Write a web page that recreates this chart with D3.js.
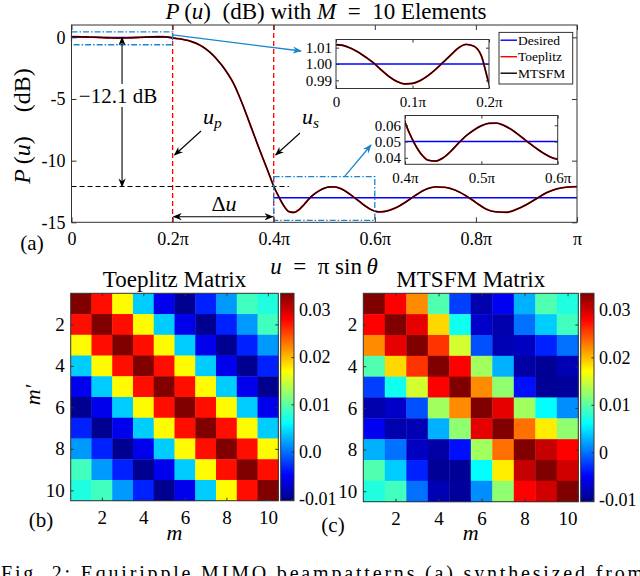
<!DOCTYPE html>
<html>
<head>
<meta charset="utf-8">
<script src="https://cdn.jsdelivr.net/npm/d3@7"></script>
<style>
body { margin: 0; background: #fff; }
svg { display: block; font-family: "Liberation Serif", "Times New Roman", "DejaVu Serif", serif; }
</style>
</head>
<body>
<svg id="fig" width="640" height="576"></svg>
<script>
// beampattern samples: u in units of pi, P(u) linear
var uPts = [0, 0.01, 0.02, 0.03, 0.04, 0.05, 0.06, 0.07, 0.08, 0.09, 0.10, 0.11, 0.12, 0.13, 0.14, 0.15, 0.16, 0.17, 0.18, 0.19, 0.20,
    0.21, 0.22, 0.23, 0.24, 0.25, 0.26, 0.27, 0.28, 0.29, 0.30, 0.31, 0.32, 0.33, 0.34, 0.35, 0.36, 0.37, 0.38, 0.39, 0.40,
    0.41, 0.42, 0.43, 0.44, 0.45, 0.46, 0.47, 0.48, 0.49, 0.50, 0.51, 0.52, 0.53, 0.54, 0.55, 0.56, 0.57, 0.58, 0.59, 0.60,
    0.61, 0.62, 0.64, 0.66, 0.68, 0.70, 0.72, 0.74, 0.76, 0.78, 0.80, 0.82, 0.84, 0.86, 0.88, 0.90, 0.92, 0.94, 0.96, 0.98, 1.00];
var pToeplitz = [1.0118, 1.0113, 1.0095, 1.0070, 1.0038, 1.0003, 0.9960, 0.9921, 0.9892, 0.9878, 0.9881, 0.9898, 0.9928, 0.9966, 1.0010, 1.0055, 1.0098, 1.0120, 1.0110, 1.0050, 0.9880,
    0.977, 0.962, 0.944, 0.916, 0.881, 0.836, 0.780, 0.716, 0.646, 0.575, 0.501, 0.427, 0.347, 0.275, 0.214, 0.166, 0.129, 0.101, 0.0794, 0.0620,
    0.0510, 0.0430, 0.0386, 0.0380, 0.0400, 0.0440, 0.0490, 0.0535, 0.0570, 0.0597, 0.0612, 0.0613, 0.0598, 0.0572, 0.0537, 0.0500, 0.0465, 0.0432, 0.0406, 0.0390,
    0.0384, 0.0387, 0.0412, 0.0458, 0.0522, 0.0583, 0.0613, 0.0607, 0.0575, 0.0520, 0.0458, 0.0405, 0.0384, 0.0381, 0.0402, 0.0440, 0.0492, 0.0550, 0.0590, 0.0610, 0.0616];
// the MTSFM synthesis lies on top of the Toeplitz one at this scale
var pMtsfm = pToeplitz.slice();

var desiredBands = [[0, 0.2, 1], [0.4, 1, 0.05]];
var legendNames = ["Desired", "Toeplitz", "MTSFM"];
var legendColors = ["#0000ff", "#ff0000", "#000000"];

var xTicks = [0, 0.2, 0.4, 0.6, 0.8, 1];
var xTickLabels = ["0", "0.2\u03c0", "0.4\u03c0", "0.6\u03c0", "0.8\u03c0", "\u03c0"];
var yTicks = [0, -5, -10, -15];
var in1XTicks = [0, 0.1, 0.2], in1XLabels = ["0", "0.1\u03c0", "0.2\u03c0"];
var in1YTicks = [0.99, 1.00, 1.01];
var in2XTicks = [0.4, 0.5, 0.6], in2XLabels = ["0.4\u03c0", "0.5\u03c0", "0.6\u03c0"];
var in2YTicks = [0.04, 0.05, 0.06];

var toeplitzMat = [
    [0.0335, 0.0274, 0.0172, 0.0039, -0.0057, -0.0099, -0.0035, 0.0017, 0.0088, 0.0074],
    [0.0274, 0.0335, 0.0274, 0.0172, 0.0039, -0.0057, -0.0099, -0.0035, 0.0017, 0.0088],
    [0.0172, 0.0274, 0.0335, 0.0274, 0.0172, 0.0039, -0.0057, -0.0099, -0.0035, 0.0017],
    [0.0039, 0.0172, 0.0274, 0.0335, 0.0274, 0.0172, 0.0039, -0.0057, -0.0099, -0.0035],
    [-0.0057, 0.0039, 0.0172, 0.0274, 0.0335, 0.0274, 0.0172, 0.0039, -0.0057, -0.0099],
    [-0.0099, -0.0057, 0.0039, 0.0172, 0.0274, 0.0335, 0.0274, 0.0172, 0.0039, -0.0057],
    [-0.0035, -0.0099, -0.0057, 0.0039, 0.0172, 0.0274, 0.0335, 0.0274, 0.0172, 0.0039],
    [0.0017, -0.0035, -0.0099, -0.0057, 0.0039, 0.0172, 0.0274, 0.0335, 0.0274, 0.0172],
    [0.0088, 0.0017, -0.0035, -0.0099, -0.0057, 0.0039, 0.0172, 0.0274, 0.0335, 0.0274],
    [0.0074, 0.0088, 0.0017, -0.0035, -0.0099, -0.0057, 0.0039, 0.0172, 0.0274, 0.0335]
];
var mtsfmMat = [
    [0.0335, 0.0280, 0.0220, 0.0095, -0.0022, -0.0086, -0.0055, 0.0027, 0.0095, 0.0074],
    [0.0280, 0.0335, 0.0291, 0.0187, 0.0067, -0.0074, -0.0086, -0.0001, 0.0039, 0.0088],
    [0.0220, 0.0291, 0.0335, 0.0258, 0.0151, -0.0015, -0.0083, -0.0077, -0.0035, -0.0001],
    [0.0095, 0.0187, 0.0258, 0.0335, 0.0280, 0.0130, 0.0027, -0.0090, -0.0096, -0.0083],
    [-0.0022, 0.0067, 0.0151, 0.0280, 0.0335, 0.0220, 0.0122, -0.0043, -0.0096, -0.0094],
    [-0.0086, -0.0074, -0.0015, 0.0130, 0.0220, 0.0335, 0.0291, 0.0130, 0.0061, 0.0012],
    [-0.0055, -0.0086, -0.0083, 0.0027, 0.0122, 0.0291, 0.0335, 0.0232, 0.0178, 0.0122],
    [0.0027, -0.0001, -0.0077, -0.0090, -0.0043, 0.0130, 0.0232, 0.0335, 0.0305, 0.0280],
    [0.0095, 0.0039, -0.0035, -0.0096, -0.0096, 0.0061, 0.0178, 0.0305, 0.0335, 0.0300],
    [0.0074, 0.0088, -0.0001, -0.0083, -0.0094, 0.0012, 0.0122, 0.0280, 0.0300, 0.0335]
];
var matTicks = [2, 4, 6, 8, 10];
var cbarTicks = [-0.01, 0, 0.01, 0.02, 0.03];
var cbarLabelsB = ["-0.01", "0.0", "0.01", "0.02", "0.03"];
var cbarLabelsC = ["-0.01", "0", "0.01", "0.02", "0.03"];
var cLim = [-0.0104, 0.0335];

var svg = d3.select("#fig");
var ink = "#333";
var defs = svg.append("defs");

function marker(id, color, size) {
    defs.append("marker").attr("id", id).attr("viewBox", "0 0 10 10")
        .attr("refX", 9).attr("refY", 5).attr("markerWidth", size).attr("markerHeight", size)
        .attr("orient", "auto-start-reverse").attr("markerUnits", "userSpaceOnUse")
        .append("path").attr("d", "M0,1 L10,5 L0,9 L3,5 Z").attr("fill", color);
}
marker("ahK", "#000", 9);
marker("ahB", "#1a85d0", 9);

var plain = function(d) { return String(d); };

// MATLAB-like boxed axes with inward ticks
function boxAxes(g, xs, ys, o) {
    var b = ys.range()[0], t = ys.range()[1], l = xs.range()[0], r = xs.range()[1];
    var tk = o.tick || 5;
    var ax = g.append("g").attr("transform", "translate(0," + b + ")")
        .call(d3.axisBottom(xs).tickValues(o.xt).tickFormat(o.xf).tickSize(-tk).tickSizeOuter(0).tickPadding(o.xpad));
    var ay = g.append("g").attr("transform", "translate(" + l + ",0)")
        .call(d3.axisLeft(ys).tickValues(o.yt).tickFormat(o.yf).tickSize(-tk).tickSizeOuter(0).tickPadding(o.ypad));
    var at = g.append("g").attr("transform", "translate(0," + t + ")")
        .call(d3.axisTop(xs).tickValues(o.xt).tickFormat("").tickSize(-tk).tickSizeOuter(0));
    var ar = g.append("g").attr("transform", "translate(" + r + ",0)")
        .call(d3.axisRight(ys).tickValues(o.yt).tickFormat("").tickSize(-tk).tickSizeOuter(0));
    [ax, ay, at, ar].forEach(function(a) {
        a.attr("font-family", null).attr("font-size", o.fs).attr("color", ink);
        a.select(".domain").remove();
        a.selectAll("text").attr("fill", "#000");
    });
    g.append("rect").attr("x", l).attr("y", t).attr("width", r - l).attr("height", b - t)
        .attr("fill", "none").attr("stroke", ink).attr("stroke-width", 1);
}

function mathText(g, x, y, parts, fs, anchor) {
    var t = g.append("text").attr("x", x).attr("y", y).attr("font-size", fs)
        .attr("text-anchor", anchor || "middle");
    parts.forEach(function(p) {
        var s = t.append("tspan").text(p[0]);
        if (p[1] === "i") s.attr("font-style", "italic");
        if (p[1] === "sub") s.attr("font-style", "italic").attr("font-size", fs * 0.7).attr("dy", 4);
    });
    return t;
}

// ---------- (a) beampattern ----------
var x = d3.scaleLinear().domain([0, 1]).range([71.5, 577]);
var y = d3.scaleLinear().domain([-15, 1]).range([222.3, 25]);
var dB = function(p) { return 10 * Math.log10(p); };
var gA = svg.append("g");

defs.append("clipPath").attr("id", "clipA").append("rect")
    .attr("x", x(0)).attr("y", y(1)).attr("width", x(1) - x(0)).attr("height", y(-15) - y(1));

var plotA = gA.append("g").attr("clip-path", "url(#clipA)");

// red dashed band edges
[0.2, 0.4].forEach(function(u) {
    plotA.append("line").attr("x1", x(u)).attr("x2", x(u)).attr("y1", y(1)).attr("y2", y(-15))
        .attr("stroke", "#ff0000").attr("stroke-width", 1.3).attr("stroke-dasharray", "5,3");
});
// -12.1 dB reference
plotA.append("line").attr("x1", x(0)).attr("x2", x(0.43)).attr("y1", y(-12.1)).attr("y2", y(-12.1))
    .attr("stroke", "#000").attr("stroke-width", 1.1).attr("stroke-dasharray", "5,3");

desiredBands.forEach(function(d) {
    plotA.append("line").attr("x1", x(d[0])).attr("x2", x(d[1])).attr("y1", y(dB(d[2]))).attr("y2", y(dB(d[2])))
        .attr("stroke", "#0000ff").attr("stroke-width", 1.4);
});

var lineA = d3.line().x(function(d) { return x(d[0]); }).y(function(d) { return y(dB(d[1])); }).curve(d3.curveMonotoneX);
plotA.append("path").datum(d3.zip(uPts, pToeplitz)).attr("d", lineA)
    .attr("fill", "none").attr("stroke", "#ff0000").attr("stroke-width", 1.8);
plotA.append("path").datum(d3.zip(uPts, pMtsfm)).attr("d", lineA)
    .attr("fill", "none").attr("stroke", "#1a0000").attr("stroke-width", 1.4);

// zoom boxes
var boxBlue = "#1a85d0";
gA.append("rect").attr("x", x(0)).attr("y", y(0.45)).attr("width", x(0.2) - x(0)).attr("height", y(-0.6) - y(0.45))
    .attr("fill", "none").attr("stroke", boxBlue).attr("stroke-width", 1.3).attr("stroke-dasharray", "6,2,1.5,2");
gA.append("rect").attr("x", x(0.4)).attr("y", y(-11.3)).attr("width", x(0.6) - x(0.4)).attr("height", y(-14.85) - y(-11.3))
    .attr("fill", "none").attr("stroke", boxBlue).attr("stroke-width", 1.3).attr("stroke-dasharray", "6,2,1.5,2");
gA.append("line").attr("x1", x(0.2)).attr("y1", y(0.2)).attr("x2", 301).attr("y2", 51)
    .attr("stroke", boxBlue).attr("stroke-width", 1.3).attr("marker-end", "url(#ahB)");
gA.append("line").attr("x1", x(0.54)).attr("y1", y(-11.3)).attr("x2", 371).attr("y2", 145)
    .attr("stroke", boxBlue).attr("stroke-width", 1.3).attr("marker-end", "url(#ahB)");

boxAxes(gA, x, y, {xt: xTicks, xf: function(d, i) { return xTickLabels[i]; }, yt: yTicks, yf: plain,
    xpad: 10, ypad: 6, fs: 18, tick: 5});

// -12.1 dB double arrow
gA.append("line").attr("x1", x(0.1)).attr("x2", x(0.1)).attr("y1", 84).attr("y2", y(0))
    .attr("stroke", "#000").attr("stroke-width", 1.1).attr("marker-end", "url(#ahK)");
gA.append("line").attr("x1", x(0.1)).attr("x2", x(0.1)).attr("y1", 107).attr("y2", y(-12.1))
    .attr("stroke", "#000").attr("stroke-width", 1.1).attr("marker-end", "url(#ahK)");
gA.append("text").attr("x", 118).attr("y", 103).attr("text-anchor", "middle").attr("font-size", 21).text("\u221212.1 dB");

// u_p, u_s, delta u
mathText(gA, 203, 124, [["u", "i"], ["p", "sub"]], 22, "start");
gA.append("line").attr("x1", 201).attr("y1", 131).attr("x2", x(0.2) + 2).attr("y2", 155)
    .attr("stroke", "#000").attr("stroke-width", 1.1).attr("marker-end", "url(#ahK)");
mathText(gA, 302, 124, [["u", "i"], ["s", "sub"]], 22, "start");
gA.append("line").attr("x1", 300).attr("y1", 133).attr("x2", x(0.4) + 2).attr("y2", 155)
    .attr("stroke", "#000").attr("stroke-width", 1.1).attr("marker-end", "url(#ahK)");
mathText(gA, 224, 211, [["\u0394"], ["u", "i"]], 22, "middle");
gA.append("line").attr("x1", x(0.3)).attr("x2", x(0.2) + 1).attr("y1", 216.7).attr("y2", 216.7)
    .attr("stroke", "#000").attr("stroke-width", 1.1).attr("marker-end", "url(#ahK)");
gA.append("line").attr("x1", x(0.3)).attr("x2", x(0.4) - 1).attr("y1", 216.7).attr("y2", 216.7)
    .attr("stroke", "#000").attr("stroke-width", 1.1).attr("marker-end", "url(#ahK)");

// insets
function inset(id, l, r, t, b, xd, yd, xt, xl, yt, yf) {
    var xs = d3.scaleLinear().domain(xd).range([l, r]);
    var ys = d3.scaleLinear().domain(yd).range([b, t]);
    var g = gA.append("g");
    g.append("rect").attr("x", l).attr("y", t).attr("width", r - l).attr("height", b - t).attr("fill", "#fff");
    defs.append("clipPath").attr("id", id).append("rect").attr("x", l).attr("y", t).attr("width", r - l).attr("height", b - t);
    var p = g.append("g").attr("clip-path", "url(#" + id + ")");
    desiredBands.forEach(function(d) {
        p.append("line").attr("x1", xs(d[0])).attr("x2", xs(d[1])).attr("y1", ys(d[2])).attr("y2", ys(d[2]))
            .attr("stroke", "#0000ff").attr("stroke-width", 1.4);
    });
    var ln = d3.line().x(function(d) { return xs(d[0]); }).y(function(d) { return ys(d[1]); }).curve(d3.curveMonotoneX);
    var keep = function(d) { return d[0] >= xd[0] - 0.011 && d[0] <= xd[1] + 0.011; };
    p.append("path").datum(d3.zip(uPts, pToeplitz).filter(keep)).attr("d", ln)
        .attr("fill", "none").attr("stroke", "#ff0000").attr("stroke-width", 1.8);
    p.append("path").datum(d3.zip(uPts, pMtsfm).filter(keep)).attr("d", ln)
        .attr("fill", "none").attr("stroke", "#1a0000").attr("stroke-width", 1.4);
    boxAxes(g, xs, ys, {xt: xt, xf: function(d, i) { return xl[i]; }, yt: yt, yf: yf, xpad: 8, ypad: 4, fs: 15, tick: 3});
}
inset("clipI1", 336, 489, 39.5, 88.5, [0, 0.2], [0.985, 1.015], in1XTicks, in1XLabels, in1YTicks, d3.format(".2f"));
inset("clipI2", 405, 557.7, 115.5, 164.3, [0.4, 0.6], [0.036, 0.066], in2XTicks, in2XLabels, in2YTicks, d3.format(".2f"));

// legend
var lg = gA.append("g");
lg.append("rect").attr("x", 499).attr("y", 32.4).attr("width", 73.7).attr("height", 51.6)
    .attr("fill", "#fff").attr("stroke", ink).attr("stroke-width", 1);
legendNames.forEach(function(n, i) {
    var yy = 40.2 + i * 16.5;
    lg.append("line").attr("x1", 500.5).attr("x2", 517).attr("y1", yy).attr("y2", yy)
        .attr("stroke", legendColors[i]).attr("stroke-width", 1.4);
    lg.append("text").attr("x", 518).attr("y", yy + 4.5).attr("font-size", 13.5).text(n);
});

// titles and labels
mathText(svg, 326, 19, [["P", "i"], ["\u2009("], ["u", "i"], [")\u2002(dB) with "], ["M", "i"], ["\u2002=\u200210 Elements"]], 23, "middle");
mathText(svg, 324, 274, [["u", "i"], ["\u2002=\u2002\u03c0 sin\u2009"], ["\u03b8", "i"]], 23, "middle");
mathText(svg, 0, 0, [["P", "i"], ["\u2009("], ["u", "i"], [")\u2003(dB)"]], 24, "middle")
    .attr("transform", "translate(30,126) rotate(-90)");
svg.append("text").attr("x", 32).attr("y", 250).attr("text-anchor", "middle").attr("font-size", 21).text("(a)");

// ---------- (b), (c) matrices ----------
var jetStops = [0, 1 / 8, 3 / 8, 5 / 8, 7 / 8, 1];
var jet = d3.scaleLinear()
    .domain(jetStops.map(function(t) { return cLim[0] + t * (cLim[1] - cLim[0]); }))
    .range(["#000085", "#0000ff", "#00ffff", "#ffff00", "#ff0000", "#800000"])
    .clamp(true);

var grad = defs.append("linearGradient").attr("id", "jetGrad").attr("x1", 0).attr("x2", 0).attr("y1", 1).attr("y2", 0);
d3.range(0, 1.0001, 1 / 32).forEach(function(t) {
    grad.append("stop").attr("offset", t).attr("stop-color", jet(cLim[0] + t * (cLim[1] - cLim[0])));
});

function matrixPanel(mat, l, r, t, b, cbL, title, cbLabels, tag, tagX, tagY, ylab) {
    var g = svg.append("g");
    var xs = d3.scaleLinear().domain([0.5, 10.5]).range([l, r]);
    var ys = d3.scaleLinear().domain([10.5, 0.5]).range([b, t]);
    mat.forEach(function(row, i) {
        g.selectAll(null).data(row).enter().append("rect")
            .attr("x", function(d, j) { return xs(j + 0.5); })
            .attr("y", ys(i + 0.5))
            .attr("width", xs(1.5) - xs(0.5) + 0.4)
            .attr("height", ys(1.5) - ys(0.5) + 0.4)
            .attr("fill", function(d) { return jet(d); });
    });
    boxAxes(g, xs, ys, {xt: matTicks, xf: plain, yt: matTicks, yf: plain, xpad: 10, ypad: 6, fs: 19, tick: 3});
    g.append("text").attr("x", (l + r) / 2).attr("y", 287).attr("text-anchor", "middle").attr("font-size", 23).text(title);
    mathText(g, (l + r) / 2, 540, [["m", "i"]], 22, "middle");
    g.append("text").attr("x", tagX).attr("y", tagY).attr("text-anchor", "middle").attr("font-size", 21).text(tag);
    if (ylab) {
        mathText(g, 0, 0, [["m\u2032", "i"]], 22, "middle").attr("transform", "translate(40,395) rotate(-90)");
    }
    // colorbar
    var cs = d3.scaleLinear().domain(cLim).range([b, t]);
    g.append("rect").attr("x", cbL).attr("y", t).attr("width", 13.3).attr("height", b - t).attr("fill", "url(#jetGrad)");
    var ca = g.append("g").attr("transform", "translate(" + (cbL + 13.3) + ",0)")
        .call(d3.axisRight(cs).tickValues(cbarTicks).tickFormat(function(d, i) { return cbLabels[i]; })
            .tickSize(-2.5).tickSizeOuter(0).tickPadding(5));
    ca.attr("font-family", null).attr("font-size", 18).attr("color", ink);
    ca.select(".domain").remove();
    ca.selectAll("text").attr("fill", "#000");
    g.append("rect").attr("x", cbL).attr("y", t).attr("width", 13.3).attr("height", b - t)
        .attr("fill", "none").attr("stroke", ink).attr("stroke-width", 1);
}
matrixPanel(toeplitzMat, 70.7, 278.3, 293.3, 500.7, 280.7, "Toeplitz Matrix", cbarLabelsB, "(b)", 41, 527, true);
matrixPanel(mtsfmMat, 363.3, 578.3, 293.3, 501.7, 580.7, "MTSFM Matrix", cbarLabelsC, "(c)", 333, 532, false);

// caption, cut by the page edge as in the source figure
svg.append("text").attr("x", 1).attr("y", 580).attr("font-size", 20)
    .attr("textLength", 642).attr("lengthAdjust", "spacing")
    .text("Fig. 2: Equiripple MIMO beampatterns (a) synthesized from");
</script>
</body>
</html>
